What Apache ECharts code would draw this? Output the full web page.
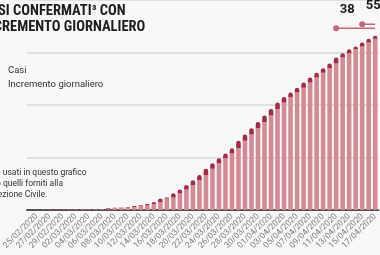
<!DOCTYPE html>
<html>
<head>
<meta charset="utf-8">
<script src="https://cdn.jsdelivr.net/npm/echarts@6/dist/echarts.min.js"></script>
<style>
  html, body { margin: 0; padding: 0; background: #f8f8f8; }
  #chart { width: 380px; height: 255px; }
</style>
</head>
<body>
<div id="chart"></div>
<script>
var giorni = ['24/02/2020', '25/02/2020', '26/02/2020', '27/02/2020', '28/02/2020', '29/02/2020',
  '01/03/2020', '02/03/2020', '03/03/2020', '04/03/2020', '05/03/2020', '06/03/2020', '07/03/2020',
  '08/03/2020', '09/03/2020', '10/03/2020', '11/03/2020', '12/03/2020', '13/03/2020', '14/03/2020',
  '15/03/2020', '16/03/2020', '17/03/2020', '18/03/2020', '19/03/2020', '20/03/2020', '21/03/2020',
  '22/03/2020', '23/03/2020', '24/03/2020', '25/03/2020', '26/03/2020', '27/03/2020', '28/03/2020',
  '29/03/2020', '30/03/2020', '31/03/2020', '01/04/2020', '02/04/2020', '03/04/2020', '04/04/2020',
  '05/04/2020', '06/04/2020', '07/04/2020', '08/04/2020', '09/04/2020', '10/04/2020', '11/04/2020',
  '12/04/2020', '13/04/2020', '14/04/2020', '15/04/2020', '16/04/2020', '17/04/2020']
// casi totali (altezza complessiva della barra)
var casi = [150, 200, 250, 300, 350, 400,
  450, 500, 550, 600, 700, 800, 1600,
  2100, 2300, 2800, 3700, 4600, 5600, 7700,
  10900, 11800, 16000, 19500, 23800, 28300, 33400,
  39200, 44500, 49200, 53800, 58700, 65900, 71900,
  77900, 83900, 90000, 96200, 102500, 107600, 111800,
  116400, 121500, 126200, 130800, 135000, 139600, 145200,
  149300, 153100, 155800, 159500, 163000, 166000]
// incremento giornaliero (parte scura in cima)
var incremento = [150, 50, 50, 50, 50, 50,
  50, 50, 50, 50, 100, 100, 800,
  500, 200, 500, 900, 900, 1000, 2100,
  3200, 900, 4200, 3500, 4300, 4500, 5100,
  5800, 5300, 4700, 4600, 4900, 7200, 6000,
  6000, 6000, 6100, 6200, 6300, 5100, 4200,
  4600, 5100, 4700, 4600, 4200, 4600, 5600,
  4100, 3800, 2700, 3700, 3500, 3000]
// segni in alto a destra
var segniGiorni = ['11/04/2020', '15/04/2020']
var segniLivelli = [173000, 177000]
var segniEtichette = ['38', '55']

var chiaro = '#d38a92'
var scuro = '#a52a4a'
var segno = '#c2687c'
var fontTitolo = "'Liberation Sans Narrow', 'Roboto Condensed', Roboto, sans-serif"

var myChart = echarts.init(document.getElementById('chart'))

var base = casi.map(function (v, i) { return v - incremento[i] })

var segniSeries = segniGiorni.map(function (g, k) {
  return {
    name: 'segno' + k,
    type: 'line',
    data: [[g, segniLivelli[k]], [giorni[giorni.length - 1], segniLivelli[k]]],
    symbol: 'circle',
    symbolSize: function (v, p) { return p.dataIndex === 0 ? 6 : 0 },
    itemStyle: { color: segno },
    lineStyle: { color: segno, width: 1.5 },
    label: {
      show: true,
      formatter: function (p) { return p.dataIndex === 0 ? segniEtichette[k] : '' },
      position: 'top',
      offset: [11, -4],
      fontFamily: 'Roboto',
      fontWeight: 'bold',
      fontSize: 13,
      color: '#1e1e1e'
    },
    z: 5
  }
})

var option = {
  backgroundColor: '#f8f8f8',
  animation: false,
  title: [{
    text: 'CASI CONFERMATI³ CON\nINCREMENTO GIORNALIERO',
    left: -24,
    top: -2,
    textStyle: {
      fontFamily: fontTitolo,
      fontWeight: 'bold',
      fontSize: 14.5,
      lineHeight: 16,
      color: '#1e1e1e'
    }
  }, {
    text: 'I dati usati in questo grafico\nsono quelli forniti alla\nProtezione Civile.',
    left: -23,
    top: 162,
    textStyle: {
      fontFamily: 'Roboto',
      fontWeight: 'normal',
      fontSize: 8.5,
      lineHeight: 11,
      color: '#333'
    }
  }],
  legend: {
    orient: 'vertical',
    left: -2,
    top: 60,
    itemWidth: 0,
    itemHeight: 0,
    itemGap: 3,
    selectedMode: false,
    data: ['Casi', 'Incremento giornaliero'],
    textStyle: { fontFamily: 'Roboto', fontSize: 9.5, lineHeight: 11, color: '#333' }
  },
  grid: {
    left: -18.5,
    right: -6.5,
    top: -6,
    bottom: 45,
    containLabel: false
  },
  xAxis: {
    type: 'category',
    data: giorni,
    axisTick: { show: false },
    axisLine: { lineStyle: { color: '#222', width: 1.5 } },
    axisLabel: {
      rotate: 45,
      interval: function (i) { return i % 2 === 1 },
      fontFamily: 'Roboto',
      fontSize: 8.5,
      color: '#808080',
      margin: 5
    }
  },
  yAxis: {
    type: 'value',
    min: 0,
    max: 200000,
    interval: 50000,
    axisLabel: { show: false },
    axisLine: { show: false },
    axisTick: { show: false },
    splitLine: { lineStyle: { color: '#dadada', width: 1.5 } }
  },
  series: [{
    name: 'Casi',
    type: 'bar',
    stack: 'tot',
    barWidth: '70%',
    itemStyle: { color: chiaro },
    data: base
  }, {
    name: 'Incremento giornaliero',
    type: 'bar',
    stack: 'tot',
    barWidth: '70%',
    itemStyle: { color: scuro, borderRadius: [3, 3, 0, 0] },
    data: incremento
  }].concat(segniSeries)
}

myChart.setOption(option)

window.addEventListener('resize', function () {
  myChart.resize()
})
</script>
</body>
</html>
